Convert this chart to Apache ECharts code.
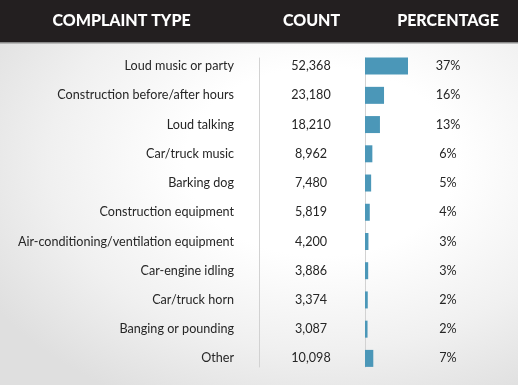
<!DOCTYPE html>
<html>
<head>
<meta charset="utf-8">
<script src="https://cdn.jsdelivr.net/npm/echarts@6/dist/echarts.min.js"></script>
<style>
html,body{margin:0;padding:0;width:518px;height:385px;overflow:hidden;
background:radial-gradient(ellipse 75% 70% at 62% 42%, #ffffff 35%, #f0f0f0 70%, #dfdfdf 100%);}
#c{width:518px;height:385px;}
</style>
</head>
<body>
<div id="c"></div>
<script>
var complaintTypes = ["Loud music or party","Construction before/after hours","Loud talking","Car/truck music","Barking dog","Construction equipment","Air-conditioning/ventilation equipment","Car-engine idling","Car/truck horn","Banging or pounding","Other"];
var counts = [52368,23180,18210,8962,7480,5819,4200,3886,3374,3087,10098];
var percentages = ["37%","16%","13%","6%","5%","4%","3%","3%","2%","2%","7%"];
var headers = ["COMPLAINT TYPE","COUNT","PERCENTAGE"];

var chart = echarts.init(document.getElementById('c'), null, {renderer:'canvas'});
var txtFont = 'Lato';
var txtColor = '#262626';
var lineColor = '#d2d2d2';
function fmt(v){return v.toLocaleString('en-US');}
function catAxis(data, pos, margin, align){
  return {type:'category', gridIndex:0, inverse:true, position:pos, data:data,
    axisLine:{show:false}, axisTick:{show:false}, splitLine:{show:false},
    axisLabel:{margin:margin, align:align, color:txtColor, fontFamily:txtFont, fontSize:12.6}};
}
function headText(t, x){
  return {type:'text', x:x, y:21, z:2,
    style:{text:t, fill:'#ffffff', font:'900 16px Lato', textAlign:'center', textVerticalAlign:'middle'}};
}
chart.setOption({
  backgroundColor:'transparent',
  animation:false,
  graphic:[
    {type:'rect', shape:{x:0,y:0,width:518,height:42}, style:{fill:'#231f20'}, z:0},
    {type:'rect', shape:{x:0,y:42,width:518,height:1.5}, style:{fill:'#8a8a8a'}, z:0},
    headText(headers[0], 121.5),
    headText(headers[1], 311.5),
    headText(headers[2], 448)
  ],
  grid:[
    {left:365, width:43, top:51.5, height:321.5},
    {left:259, width:106, top:58, height:309}
  ],
  xAxis:[
    {type:'value', gridIndex:0, min:0, max:'dataMax', show:false},
    {type:'value', gridIndex:1, min:0, max:1, show:false}
  ],
  yAxis:[
    catAxis(complaintTypes, 'left', 131, 'right'),
    catAxis(counts.map(fmt), 'left', 54, 'center'),
    catAxis(percentages, 'right', 40, 'center'),
    {type:'value', gridIndex:1, min:0, max:1, position:'left',
      axisLine:{show:true, lineStyle:{color:lineColor, width:1}}, axisTick:{show:false}, axisLabel:{show:false}, splitLine:{show:false}},
    {type:'value', gridIndex:1, min:0, max:1, position:'right',
      axisLine:{show:true, lineStyle:{color:lineColor, width:1}}, axisTick:{show:false}, axisLabel:{show:false}, splitLine:{show:false}}
  ],
  series:[
    {type:'bar', xAxisIndex:0, yAxisIndex:0, data:counts, barWidth:17,
     itemStyle:{color:'#4b97b8'}, z:3}
  ]
});
</script>
</body>
</html>
